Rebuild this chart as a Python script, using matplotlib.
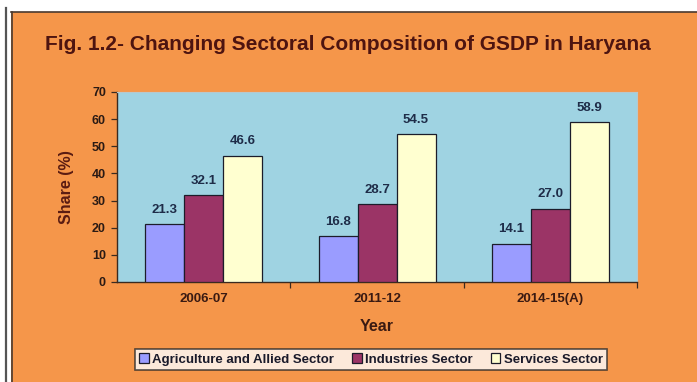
#!/usr/bin/env python3
"""Sectoral composition of Haryana GSDP, grouped bar chart."""

import matplotlib
matplotlib.use("Agg")
import matplotlib.pyplot as plt
import matplotlib.patches as mpatches
import matplotlib.lines as mlines
import numpy as np

years = ["2006-07", "2011-12", "2014-15(A)"]
sectors = ["Agriculture and Allied Sector", "Industries Sector", "Services Sector"]
agriculture = [21.3, 16.8, 14.1]
industries = [32.1, 28.7, 27.0]
services = [46.6, 54.5, 58.9]

colors = ["#9a9cff", "#9b3466", "#ffffd0"]
ORANGE = "#f5964a"
PLOT_BG = "#9fd3e2"
TITLE_C = "#4e1410"
TEXT_C = "#3a1a12"
VALUE_C = "#1e2c48"

plt.rcParams["font.family"] = ["Liberation Sans", "DejaVu Sans"]
plt.rcParams["font.weight"] = "bold"

fig = plt.figure(figsize=(6.97, 3.82), dpi=100)
fig.patch.set_facecolor("white")

# orange panel with thin dark frame, white margin on top/left
fw, fh = 697, 382
panel = mpatches.Rectangle((11 / fw, 0), 1 - 11 / fw, 1 - 12 / fh,
                           transform=fig.transFigure, facecolor=ORANGE,
                           edgecolor="none", zorder=-10)
fig.patches.append(panel)
fig.add_artist(mlines.Line2D([11 / fw, 1], [1 - 12 / fh] * 2, color="#4a3a30",
                             lw=1.2, transform=fig.transFigure))
fig.add_artist(mlines.Line2D([11.5 / fw] * 2, [0, 1 - 12 / fh], color="#4a3a30",
                             lw=1.2, transform=fig.transFigure))
fig.add_artist(mlines.Line2D([5.5 / fw] * 2, [0, 1 - 8 / fh], color="#555555",
                             lw=1.6, transform=fig.transFigure))

ax = fig.add_axes([117 / fw, 1 - 282 / fh, 520 / fw, 190 / fh])
ax.set_facecolor(PLOT_BG)

x = np.arange(len(years))
w = 0.225
series = [agriculture, industries, services]
for i, (vals, c, lab) in enumerate(zip(series, colors, sectors)):
    bars = ax.bar(x + (i - 1) * w, vals, w, color=c, edgecolor="#1c1c2a",
                  linewidth=0.9, label=lab, zorder=3)
    for b, v in zip(bars, vals):
        ax.annotate(f"{v:.1f}", (b.get_x() + b.get_width() / 2, v),
                    xytext=(0, 6), textcoords="offset points", ha="center",
                    va="bottom", fontsize=9.5, fontweight="bold", color=VALUE_C)

ax.set_xlim(-0.5, 2.5)
ax.set_ylim(0, 70)
ax.set_yticks(range(0, 71, 10))
ax.set_xticks(x)
ax.set_xticklabels(years)
ax.set_xticks([0.5, 1.5, 2.5], minor=True)
ax.tick_params(axis="x", which="major", length=0, pad=8, labelsize=9.5,
               labelcolor=TEXT_C)
ax.tick_params(axis="x", which="minor", length=4, width=0.9, color="#3a2a20")
ax.tick_params(axis="y", length=4, width=0.9, color="#3a2a20", labelsize=9,
               labelcolor="#2a1a14", pad=4)
for lab in ax.get_xticklabels() + ax.get_yticklabels():
    lab.set_fontweight("bold")

for side in ["top", "right"]:
    ax.spines[side].set_color("#b8c8cc")
    ax.spines[side].set_linewidth(0.8)
for side in ["left", "bottom"]:
    ax.spines[side].set_color("#3a2a20")
    ax.spines[side].set_linewidth(1.0)

ax.set_ylabel("Share (%)", fontsize=11.5, fontweight="bold", color="#5a1c12",
              labelpad=13)
ax.set_xlabel("Year", fontsize=11.5, fontweight="bold", color=TEXT_C, labelpad=10)

fig.text(0.499, 1 - 45 / fh, "Fig. 1.2- Changing Sectoral Composition of GSDP in Haryana",
         ha="center", va="center", fontsize=15, fontweight="bold", color=TITLE_C)

leg = fig.legend(loc="center", bbox_to_anchor=(371 / fw, 1 - 359.5 / fh), ncol=3,
                 frameon=True, fancybox=False, fontsize=9.5, handlelength=0.7,
                 handleheight=0.7, handletextpad=0.25, columnspacing=1.4,
                 borderpad=0.35, edgecolor="#2a2a2a")
leg.get_frame().set_linewidth(1.2)
for t in leg.get_texts():
    t.set_fontweight("bold")
    t.set_color("#1a1a2a")

fig.savefig("out.png", dpi=100, facecolor=fig.get_facecolor())
